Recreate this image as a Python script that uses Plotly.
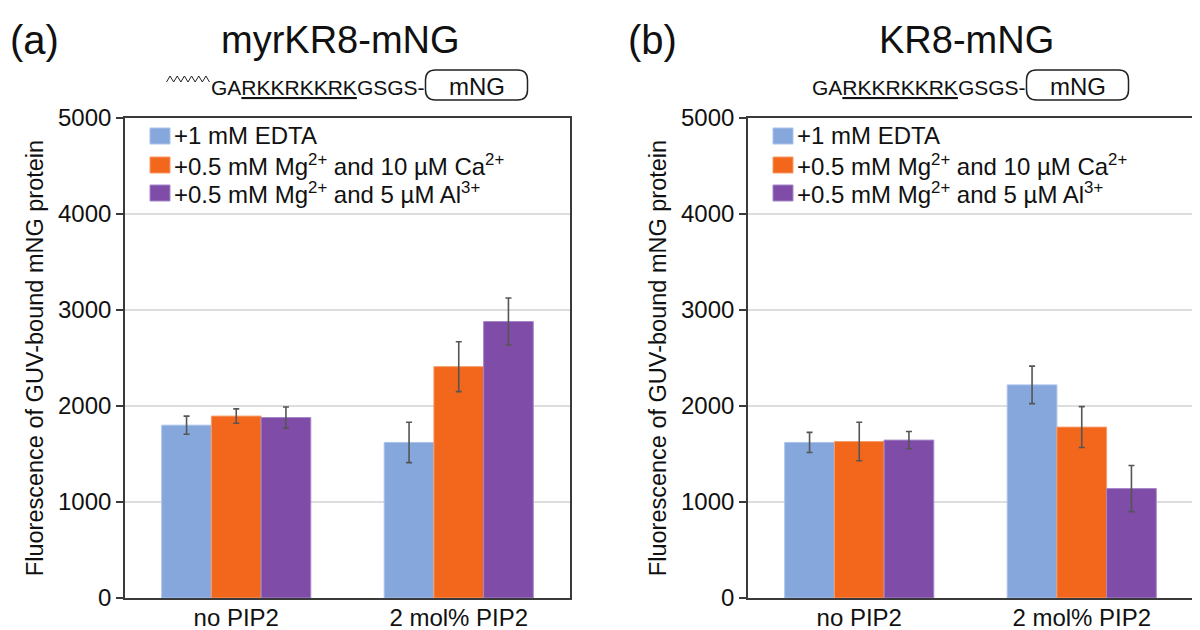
import plotly.graph_objects as go

# ---------------- data ----------------
categories = ["no PIP2", "2 mol% PIP2"]
series_names = [
    "+1 mM EDTA",
    "+0.5 mM Mg<sup>2+</sup> and 10 µM Ca<sup>2+</sup>",
    "+0.5 mM Mg<sup>2+</sup> and 5 µM Al<sup>3+</sup>",
]
colors = ["#86A7DC", "#F2671B", "#7F4CA8"]
outline_colors = ["#A9C1EA", "#F79B6C", "#A488C9"]

# panel (a): myrKR8-mNG
a_edta = [1800, 1620]
a_ca = [1895, 2410]
a_al = [1880, 2880]
a_edta_err = [95, 210]
a_ca_err = [75, 260]
a_al_err = [110, 245]

# panel (b): KR8-mNG
b_edta = [1620, 2220]
b_ca = [1630, 1780]
b_al = [1645, 1140]
b_edta_err = [105, 195]
b_ca_err = [200, 213]
b_al_err = [90, 240]

y_ticks = [0, 1000, 2000, 3000, 4000, 5000]
panel_letters = ["(a)", "(b)"]
panel_titles = ["myrKR8-mNG", "KR8-mNG"]
seq_text = "GA<u>RKKRKKRK</u>GSGS-"
box_text = "mNG"
y_title = "Fluorescence of GUV-bound mNG protein"

# ---------------- layout helpers ----------------
W, H = 1200, 630
OFF = 8  # page body margin
FONT = "Liberation Sans, Arial, Helvetica, sans-serif"
DARK = "#3a3a3a"


def px(x):
    return (x - OFF) / W


def py(y):
    return 1 - (y - OFF) / H


panels = [(125, 570), (748, 1193)]
y_top, y_bot = 118, 598

fig = go.Figure()

data_a = [(a_edta, a_edta_err), (a_ca, a_ca_err), (a_al, a_al_err)]
data_b = [(b_edta, b_edta_err), (b_ca, b_ca_err), (b_al, b_al_err)]

for p, (dataset, xa, ya) in enumerate([(data_a, "x", "y"), (data_b, "x2", "y2")]):
    for i, (vals, errs) in enumerate(dataset):
        fig.add_trace(go.Bar(
            x=categories, y=vals, name=series_names[i],
            xaxis=xa, yaxis=ya, showlegend=False,
            marker=dict(color=colors[i], line=dict(color=outline_colors[i], width=1)),
            error_y=dict(type="data", array=errs, color="#555555", thickness=1.6, width=3),
            offsetgroup=str(i),
        ))

axis_common_x = dict(
    type="category", showline=True, linecolor=DARK, linewidth=1.6, mirror=True,
    ticks="", showgrid=False, tickfont=dict(size=24, color="#111", family=FONT),
    ticklabelstandoff=-3, automargin=False, fixedrange=True,
)
axis_common_y = dict(
    range=[0, 5000], tickvals=y_ticks, showline=True, linecolor=DARK, linewidth=1.6,
    mirror=True, ticks="outside", ticklen=7, tickwidth=1.5, tickcolor=DARK,
    showgrid=True, gridcolor="#dddddd", gridwidth=1.5, zeroline=False,
    tickfont=dict(size=24, color="#111", family=FONT), automargin=False, fixedrange=True,
    title=dict(text=y_title, font=dict(size=23.5, color="#111", family=FONT), standoff=8),
)

fig.update_layout(
    width=W, height=H,
    margin=dict(l=0, r=0, t=0, b=0),
    paper_bgcolor="white", plot_bgcolor="white",
    barmode="group", bargap=0.33, bargroupgap=0,
    font=dict(family=FONT, color="#111"),
    xaxis=dict(domain=[px(panels[0][0]), px(panels[0][1])], anchor="y", **axis_common_x),
    yaxis=dict(domain=[py(y_bot), py(y_top)], anchor="x", **axis_common_y),
    xaxis2=dict(domain=[px(panels[1][0]), px(panels[1][1])], anchor="y2", **axis_common_x),
    yaxis2=dict(domain=[py(y_bot), py(y_top)], anchor="x2", **axis_common_y),
)

shapes = []
annotations = []

# legends (manual, to match swatch size)
legend_rows = [136, 165, 193]
for (x0, x1) in panels:
    for i, yc in enumerate(legend_rows):
        shapes.append(dict(
            type="rect", xref="paper", yref="paper",
            x0=px(x0 + 25), x1=px(x0 + 45), y0=py(yc + 8), y1=py(yc - 8),
            fillcolor=colors[i], line=dict(color=outline_colors[i], width=1),
        ))
        annotations.append(dict(
            xref="paper", yref="paper", x=px(x0 + 47), y=py(yc),
            xanchor="left", yanchor="middle", showarrow=False,
            text=series_names[i], font=dict(size=24, family=FONT, color="#111"),
        ))

# headers
letter_x = [34, 652]
title_x = [340, 966]
for p in range(2):
    annotations.append(dict(
        xref="paper", yref="paper", x=px(letter_x[p]), y=py(40),
        xanchor="center", yanchor="middle", showarrow=False,
        text=panel_letters[p], font=dict(size=40, family=FONT, color="#111"),
    ))
    annotations.append(dict(
        xref="paper", yref="paper", x=px(title_x[p]), y=py(40),
        xanchor="center", yanchor="middle", showarrow=False,
        text=panel_titles[p], font=dict(size=38, family=FONT, color="#111"),
    ))


def rounded_box(x0, y0, x1, y1, r):
    pts = []
    pts.append(f"M {px(x0 + r)},{py(y0)}")
    pts.append(f"L {px(x1 - r)},{py(y0)}")
    pts.append(f"Q {px(x1)},{py(y0)} {px(x1)},{py(y0 + r)}")
    pts.append(f"L {px(x1)},{py(y1 - r)}")
    pts.append(f"Q {px(x1)},{py(y1)} {px(x1 - r)},{py(y1)}")
    pts.append(f"L {px(x0 + r)},{py(y1)}")
    pts.append(f"Q {px(x0)},{py(y1)} {px(x0)},{py(y1 - r)}")
    pts.append(f"L {px(x0)},{py(y0 + r)}")
    pts.append(f"Q {px(x0)},{py(y0)} {px(x0 + r)},{py(y0)} Z")
    return " ".join(pts)


seq_start = [210.5, 811.5]
for p in range(2):
    s = seq_start[p]
    if p == 0:
        # myristoyl zigzag
        n = 12
        zx0, zx1 = s - 44, s - 1
        pts = []
        for k in range(n + 1):
            xx = zx0 + (zx1 - zx0) * k / n
            yy = 82 if k % 2 == 0 else 76
            pts.append(("M " if k == 0 else "L ") + f"{px(xx)},{py(yy)}")
        shapes.append(dict(type="path", xref="paper", yref="paper", path=" ".join(pts),
                           line=dict(color="#222", width=1)))
    annotations.append(dict(
        xref="paper", yref="paper", x=px(s - 2), y=py(87),
        xanchor="left", yanchor="middle", showarrow=False,
        text=seq_text, font=dict(size=21, family=FONT, color="#111"),
    ))
    bx0, bx1 = s + 215, s + 317
    shapes.append(dict(type="path", xref="paper", yref="paper",
                       path=rounded_box(bx0, 70, bx1, 100, 10),
                       line=dict(color="#222", width=1.5), fillcolor="rgba(0,0,0,0)"))
    annotations.append(dict(
        xref="paper", yref="paper", x=px((bx0 + bx1) / 2), y=py(86),
        xanchor="center", yanchor="middle", showarrow=False,
        text=box_text, font=dict(size=24, family=FONT, color="#111"),
    ))

fig.update_layout(shapes=shapes, annotations=annotations)
fig.write_html("out.html")
